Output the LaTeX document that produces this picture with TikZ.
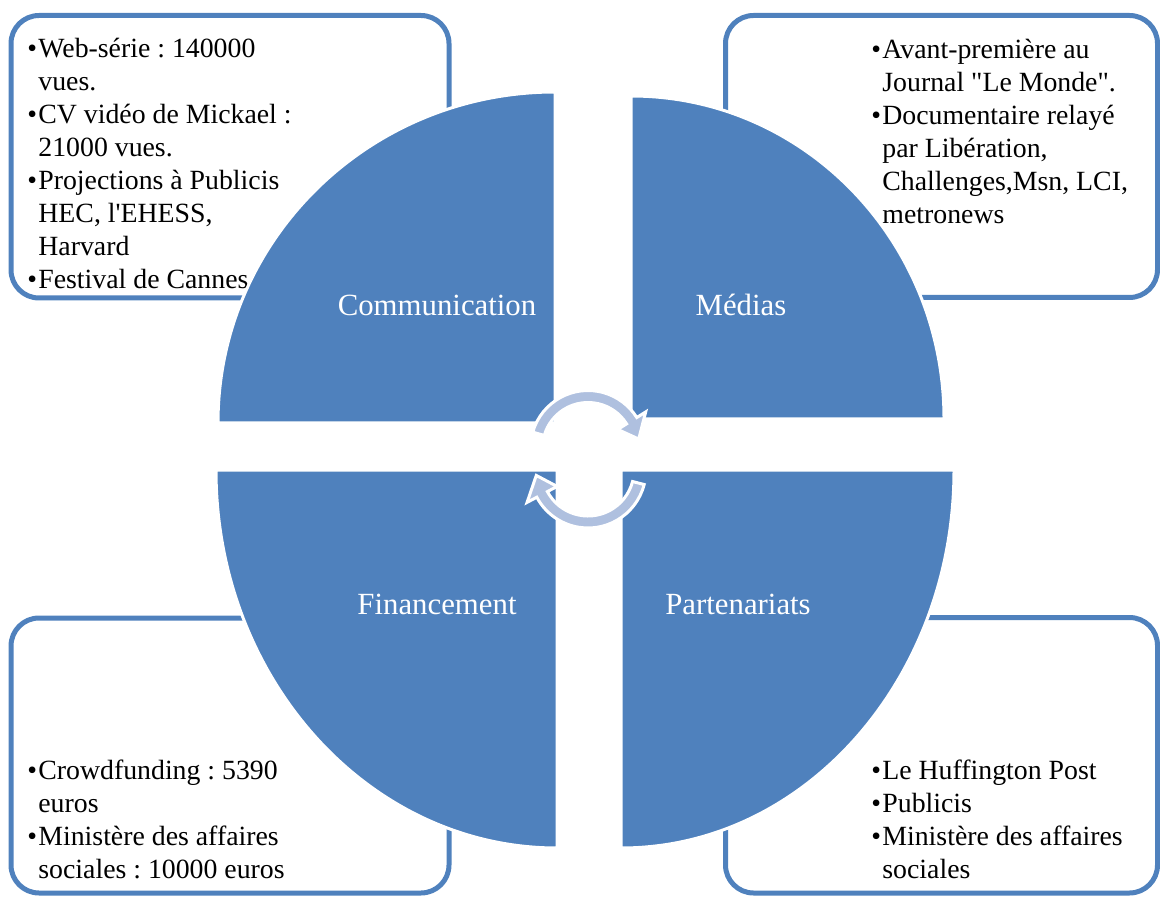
\documentclass[tikz,border=0pt]{standalone}
\usepackage{fontspec}
\setmainfont{Liberation Serif}
\usepackage{tikz}

\definecolor{accentblue}{RGB}{79,129,189}
\definecolor{arrowblue}{RGB}{175,192,223}

\newcommand{\puce}{\makebox[5.5pt][l]{\textbullet}}
\newcommand{\suite}{\hspace*{5.5pt}}
\frenchspacing

\begin{document}
\begin{tikzpicture}[
		x=0.5pt, y=-0.5pt,
		% Box Styles
		info_box/.style={rectangle, rounded corners=14pt, draw=accentblue, line width=2.5pt, fill=white, inner sep=0pt},
		box_text/.style={anchor=base west, align=left, inner sep=0pt, font=\fontsize{13.9}{16.5}\selectfont},
		% Quadrant Styles
		quad_fill/.style={fill=accentblue, draw=white, line width=1.5pt},
		quad_label/.style={anchor=base, text=white, inner sep=0pt, font=\fontsize{15.4}{18}\selectfont},
		% Cycle Arrow Style
		cycle_arrow/.style={fill=arrowblue, draw=white, line width=1.5pt, line join=miter}
		]
		
		\useasboundingbox (0,0) rectangle (1160,897);
		
		% --- 1. TEXT BOXES ---
		\node[info_box, minimum width=219pt, minimum height=141.25pt] (CommBox) at (230,156.75) {};
		\node[info_box, minimum width=216pt, minimum height=141pt] (MediaBox) at (941.5,156.5) {};
		\node[info_box, minimum width=219pt, minimum height=137.5pt] (FinBox) at (230,755.5) {};
		\node[info_box, minimum width=216pt, minimum height=137.75pt] (PartBox) at (941.5,755.25) {};
		
		% base anchor sits on the last line
		\node[box_text] (CommText) at (27,289) {\puce Web-série : 140000\\ \suite vues.\\ \puce CV vidéo de Mickael :\\ \suite 21000 vues.\\ \puce Projections à Publicis\\ \suite HEC, l\textquotesingle EHESS,\\ \suite Harvard\\ \puce Festival de Cannes};
		\node[box_text] (MediaText) at (871,224) {\puce Avant-première au\\ \suite Journal \textquotedbl Le Monde\textquotedbl .\\ \puce Documentaire relayé\\ \suite par Libération,\\ \suite Challenges,Msn, LCI,\\ \suite metronews};
		\node[box_text] (FinText) at (27,878) {\puce Crowdfunding : 5390\\ \suite euros\\ \puce Ministère des affaires\\ \suite sociales : 10000 euros};
		\node[box_text] (PartText) at (871,878) {\puce Le Huffington Post\\ \puce Publicis\\ \puce Ministère des affaires\\ \suite sociales};
		
		% --- 2. QUADRANTS ---
		\path[quad_fill] (555,423) -- (218,423) arc[start angle=180, end angle=270, x radius=337, y radius=331] -- cycle;
		\path[quad_fill] (631,419) -- (631,96) arc[start angle=270, end angle=360, x radius=313, y radius=323] -- cycle;
		\path[quad_fill] (557,470) -- (216,470) arc[start angle=180, end angle=90, x radius=341, y radius=378] -- cycle;
		\path[quad_fill] (621,470) -- (954,470) arc[start angle=0, end angle=90, x radius=333, y radius=378] -- cycle;
		
		\node[quad_label] (CommLbl) at (437,316) {Communication};
		\node[quad_label] (MediaLbl) at (741,316) {Médias};
		\node[quad_label] (FinLbl) at (437,614) {Financement};
		\node[quad_label] (PartLbl) at (738,614) {Partenariats};
		
		% --- 3. CYCLE ARROWS ---
		\begin{scope}[shift={(588,448)}]
			\path[cycle_arrow] (-164:57.5) arc[start angle=-164, end angle=-32, radius=57.5] -- (-32:68) -- (-10:51.5) -- (-32:35) -- (-32:45.5) arc[start angle=-32, end angle=-164, radius=45.5] -- cycle;
		\end{scope}
		\begin{scope}[shift={(588,470)}]
			\path[cycle_arrow] (14.5:58) arc[start angle=14.5, end angle=152, radius=58] -- (152:69) -- (174:52) -- (152:35) -- (152:46) arc[start angle=152, end angle=14.5, radius=46] -- cycle;
		\end{scope}
		
	\end{tikzpicture}
\end{document}
